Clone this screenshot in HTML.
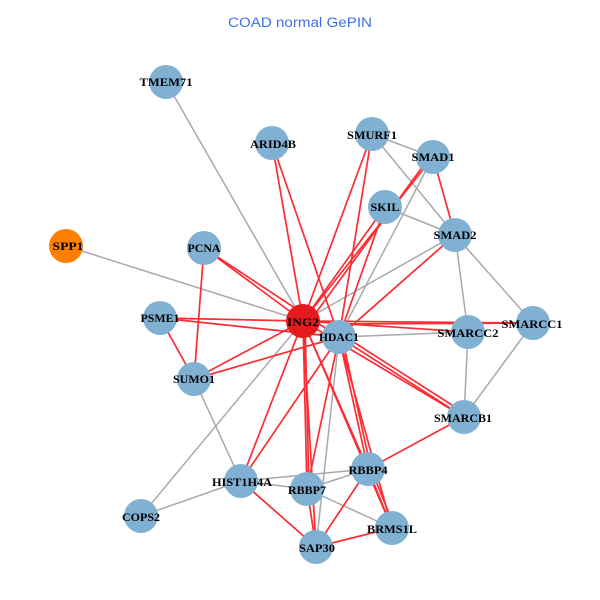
<!DOCTYPE html>
<html><head><meta charset="utf-8"><style>html,body{margin:0;padding:0;background:#fff}svg{display:block}
.r line{stroke:#fb2c33;stroke-width:1.7}.g line{stroke:#a9a9a9;stroke-width:1.5}
circle{fill:#80b1d3}
.l text{font-family:"Liberation Serif",serif;font-weight:bold;font-size:12px;text-anchor:middle;fill:#000}
</style></head><body>
<svg width="600" height="600" viewBox="0 0 600 600" xmlns="http://www.w3.org/2000/svg">
<rect width="600" height="600" fill="#fff"/>
<text x="300" y="27" text-anchor="middle" font-family="Liberation Sans,sans-serif" font-size="13.5" fill="#3f6fe8" textLength="144" lengthAdjust="spacingAndGlyphs">COAD normal GePIN</text>
<g class="g">
<line x1="166" y1="82" x2="303" y2="321"/><line x1="66" y1="246" x2="303" y2="321"/><line x1="141" y1="516" x2="303" y2="321"/>
<line x1="141" y1="516" x2="241" y2="481"/><line x1="303" y1="321" x2="455" y2="235"/><line x1="339" y1="337" x2="433" y2="157"/>
<line x1="339" y1="337" x2="316" y2="547"/><line x1="339" y1="337" x2="468" y2="332"/><line x1="194" y1="379" x2="241" y2="481"/>
<line x1="241" y1="481" x2="368" y2="469"/><line x1="241" y1="481" x2="307" y2="489"/><line x1="307" y1="489" x2="368" y2="469"/>
<line x1="307" y1="489" x2="392" y2="528"/><line x1="307" y1="489" x2="316" y2="547"/><line x1="368" y1="469" x2="392" y2="528"/>
<line x1="372" y1="134" x2="433" y2="157"/><line x1="372" y1="134" x2="455" y2="235"/><line x1="385" y1="207" x2="455" y2="235"/>
<line x1="455" y1="235" x2="468" y2="332"/><line x1="455" y1="235" x2="533" y2="323"/><line x1="468" y1="332" x2="464" y2="417"/>
<line x1="533" y1="323" x2="464" y2="417"/>
</g>
<g class="r">
<line x1="303" y1="321" x2="272" y2="143"/><line x1="339" y1="337" x2="272" y2="143"/>
<line x1="303" y1="321" x2="372" y2="134"/><line x1="339" y1="337" x2="372" y2="134"/>
<line x1="303" y1="321" x2="433" y2="157"/><line x1="307" y1="325" x2="431" y2="155"/>
<line x1="303" y1="321" x2="385" y2="207"/><line x1="339" y1="337" x2="385" y2="207"/>
<line x1="339" y1="337" x2="455" y2="235"/><line x1="433" y1="157" x2="455" y2="235"/>
<line x1="303" y1="321" x2="204" y2="248"/><line x1="339" y1="337" x2="204" y2="248"/>
<line x1="303" y1="321" x2="160" y2="318"/><line x1="339" y1="337" x2="160" y2="318"/>
<line x1="303" y1="321" x2="194" y2="379"/><line x1="339" y1="337" x2="194" y2="379"/>
<line x1="204" y1="248" x2="194" y2="379"/><line x1="160" y1="318" x2="194" y2="379"/>
<line x1="303" y1="321" x2="241" y2="481"/><line x1="339" y1="337" x2="241" y2="481"/>
<line x1="303" y1="321" x2="307" y2="489"/><line x1="305" y1="321" x2="309" y2="489"/><line x1="339" y1="337" x2="307" y2="489"/>
<line x1="303" y1="321" x2="316" y2="547"/>
<line x1="303" y1="321" x2="368" y2="469"/><line x1="339" y1="337" x2="368" y2="469"/><line x1="342" y1="337" x2="371" y2="469"/>
<line x1="303" y1="321" x2="392" y2="528"/><line x1="339" y1="337" x2="392" y2="528"/>
<line x1="303" y1="321" x2="464" y2="417"/><line x1="339" y1="337" x2="464" y2="417"/><line x1="341" y1="334" x2="466" y2="414"/>
<line x1="303" y1="321" x2="468" y2="332"/><line x1="303" y1="321" x2="533" y2="323"/>
<line x1="339" y1="324" x2="533" y2="323"/>
<line x1="464" y1="417" x2="368" y2="469"/><line x1="241" y1="481" x2="316" y2="547"/>
<line x1="307" y1="489" x2="316" y2="547"/><line x1="368" y1="469" x2="316" y2="547"/><line x1="392" y1="528" x2="316" y2="547"/>
<line x1="368" y1="469" x2="392" y2="528"/><line x1="371" y1="469" x2="395" y2="528"/>
</g>
<circle cx="166" cy="82" r="17"/><circle cx="272" cy="143" r="17"/><circle cx="372" cy="134" r="17"/><circle cx="433" cy="157" r="17"/>
<circle cx="385" cy="207" r="17"/><circle cx="455" cy="235" r="17"/><circle cx="66" cy="246" r="17" style="fill:#ff7f00"/><circle cx="204" cy="248" r="17"/>
<circle cx="160" cy="318" r="17"/><circle cx="303" cy="321" r="17" style="fill:#e41a1c"/><circle cx="339" cy="337" r="17"/><circle cx="468" cy="332" r="17"/>
<circle cx="533" cy="323" r="17"/><circle cx="194" cy="379" r="17"/><circle cx="464" cy="417" r="17"/><circle cx="368" cy="469" r="17"/>
<circle cx="241" cy="481" r="17"/><circle cx="307" cy="489" r="17"/><circle cx="141" cy="516" r="17"/><circle cx="392" cy="528" r="17"/><circle cx="316" cy="547" r="17"/>
<g class="l">
<text x="166" y="86" textLength="53" lengthAdjust="spacingAndGlyphs">TMEM71</text>
<text x="273" y="148" textLength="46" lengthAdjust="spacingAndGlyphs">ARID4B</text>
<text x="372" y="139" textLength="50" lengthAdjust="spacingAndGlyphs">SMURF1</text>
<text x="433" y="161" textLength="43" lengthAdjust="spacingAndGlyphs">SMAD1</text>
<text x="385" y="211" textLength="29" lengthAdjust="spacingAndGlyphs">SKIL</text>
<text x="455" y="239" textLength="43" lengthAdjust="spacingAndGlyphs">SMAD2</text>
<text x="68" y="250" textLength="31" lengthAdjust="spacingAndGlyphs">SPP1</text>
<text x="204" y="252" textLength="33" lengthAdjust="spacingAndGlyphs">PCNA</text>
<text x="160" y="322" textLength="39" lengthAdjust="spacingAndGlyphs">PSME1</text>
<text x="303" y="326" textLength="32" lengthAdjust="spacingAndGlyphs">ING2</text>
<text x="339" y="341" textLength="40" lengthAdjust="spacingAndGlyphs">HDAC1</text>
<text x="468" y="337" textLength="61" lengthAdjust="spacingAndGlyphs">SMARCC2</text>
<text x="532" y="328" textLength="61" lengthAdjust="spacingAndGlyphs">SMARCC1</text>
<text x="194" y="383" textLength="42" lengthAdjust="spacingAndGlyphs">SUMO1</text>
<text x="463" y="422" textLength="58" lengthAdjust="spacingAndGlyphs">SMARCB1</text>
<text x="368" y="474" textLength="39" lengthAdjust="spacingAndGlyphs">RBBP4</text>
<text x="242" y="486" textLength="60" lengthAdjust="spacingAndGlyphs">HIST1H4A</text>
<text x="307" y="494" textLength="38" lengthAdjust="spacingAndGlyphs">RBBP7</text>
<text x="141" y="521" textLength="38" lengthAdjust="spacingAndGlyphs">COPS2</text>
<text x="392" y="533" textLength="50" lengthAdjust="spacingAndGlyphs">BRMS1L</text>
<text x="317" y="552" textLength="36" lengthAdjust="spacingAndGlyphs">SAP30</text>
</g>
</svg>
</body></html>
